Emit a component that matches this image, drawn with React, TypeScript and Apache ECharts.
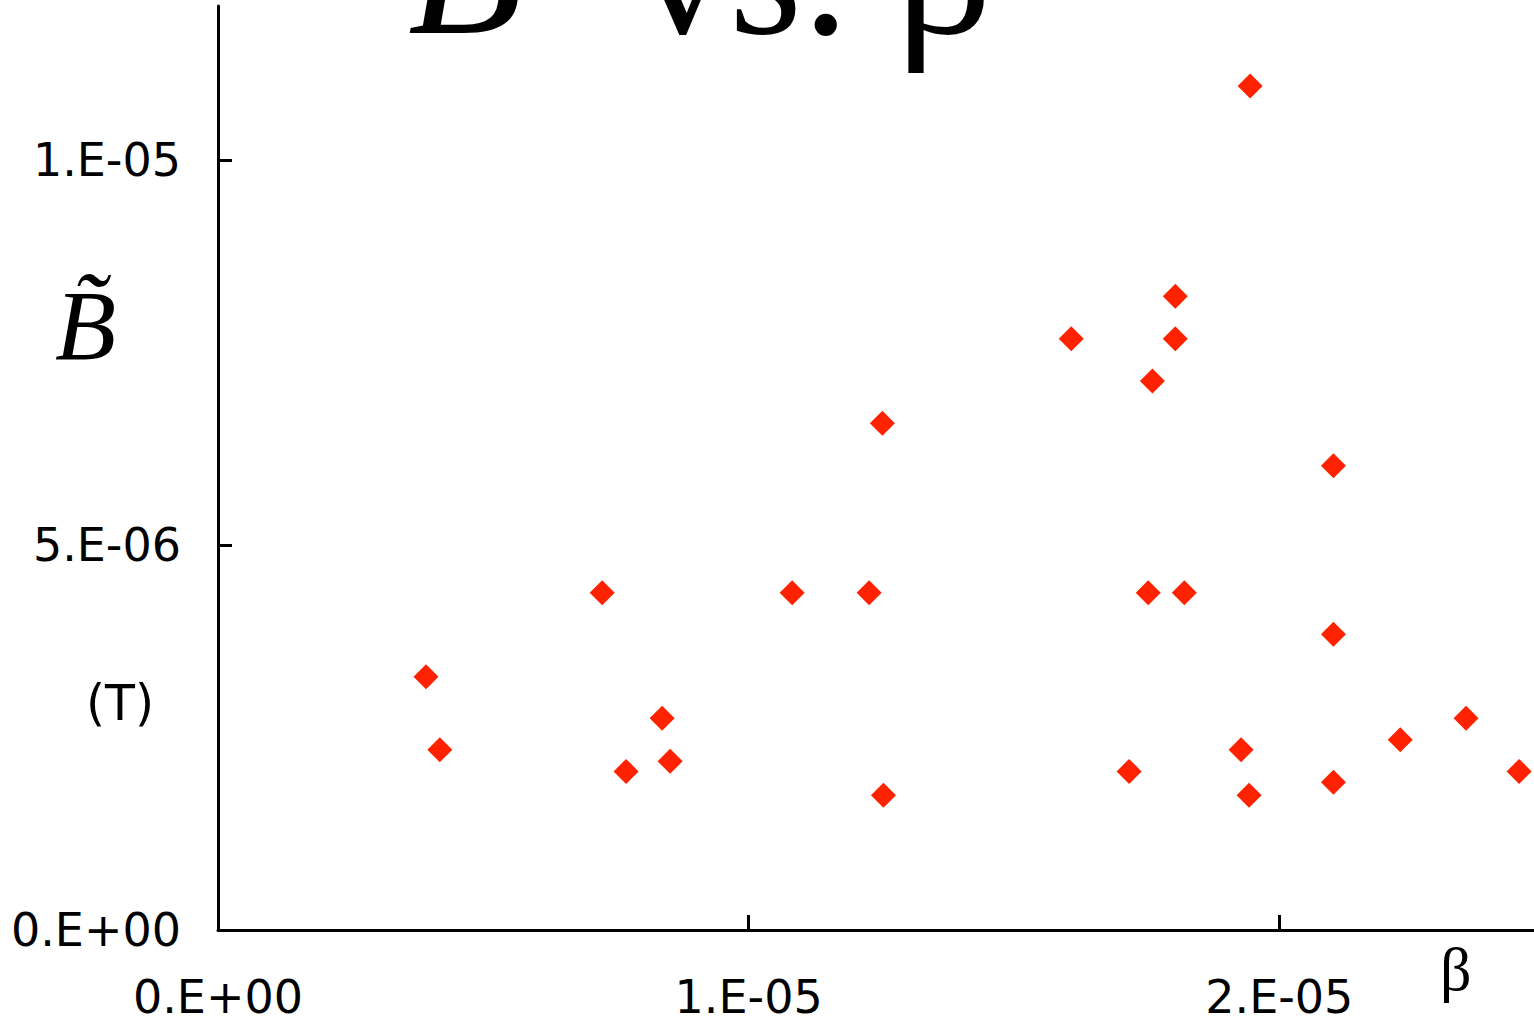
import React, { useEffect, useRef } from "react";
import * as echarts from "echarts";

// β (x) and B̃ in tesla (y) for each measurement
const betaValues = [
  3.92e-6, 4.18e-6, 7.24e-6, 7.69e-6, 8.37e-6, 8.52e-6, 1.082e-5, 1.227e-5,
  1.252e-5, 1.254e-5, 1.608e-5, 1.717e-5, 1.753e-5, 1.761e-5, 1.804e-5,
  1.804e-5, 1.821e-5, 1.928e-5, 1.945e-5, 1.943e-5, 2.102e-5, 2.102e-5,
  2.102e-5, 2.228e-5, 2.352e-5, 2.452e-5,
];
const bTildeValues = [
  3.29e-6, 2.34e-6, 4.38e-6, 2.06e-6, 2.75e-6, 2.19e-6, 4.38e-6, 4.38e-6,
  6.58e-6, 1.75e-6, 7.68e-6, 2.06e-6, 4.38e-6, 7.13e-6, 8.23e-6, 7.68e-6,
  4.38e-6, 2.34e-6, 10.96e-6, 1.75e-6, 6.03e-6, 3.84e-6, 1.92e-6, 2.47e-6,
  2.75e-6, 2.06e-6,
];

const xTickValues = [0, 1e-5, 2e-5];
const xTickLabels = ["0.E+00", "1.E-05", "2.E-05"];
const yTickValues = [0, 5e-6, 1e-5];
const yTickLabels = ["0.E+00", "5.E-06", "1.E-05"];

const labelFor = (values: number[], labels: string[]) => (v: number) => {
  const i = values.findIndex((t) => Math.abs(t - v) < 1e-9);
  return i >= 0 ? labels[i] : "";
};

const SANS = "DejaVu Sans";
const SERIF = "Liberation Serif";

export default function App() {
  const ref = useRef<HTMLDivElement>(null);

  useEffect(() => {
    if (!ref.current) return;
    const chart = echarts.init(ref.current, null, { renderer: "svg" });
    const axisLine = { show: true, onZero: false, lineStyle: { color: "#000", width: 3 } };
    chart.setOption({
      animation: false,
      backgroundColor: "#fff",
      grid: { left: 218, right: 0, top: 6, bottom: 92, containLabel: false },
      xAxis: {
        type: "value",
        min: 0,
        max: 2.48e-5,
        splitLine: { show: false },
        axisLine,
        axisTick: {
          show: true,
          inside: true,
          length: 15,
          customValues: xTickValues.slice(1),
          lineStyle: { color: "#000", width: 3 },
        },
        axisLabel: {
          customValues: xTickValues,
          formatter: labelFor(xTickValues, xTickLabels),
          fontFamily: SANS,
          fontSize: 46,
          color: "#000",
          margin: 44,
        },
      },
      yAxis: {
        type: "value",
        min: 0,
        max: 1.2e-5,
        splitLine: { show: false },
        axisLine,
        axisTick: {
          show: true,
          inside: true,
          length: 14,
          customValues: yTickValues.slice(1),
          lineStyle: { color: "#000", width: 3 },
        },
        axisLabel: {
          customValues: yTickValues,
          formatter: labelFor(yTickValues, yTickLabels),
          fontFamily: SANS,
          fontSize: 46,
          color: "#000",
          margin: 37,
        },
      },
      series: [
        {
          type: "scatter",
          symbol: "diamond",
          symbolSize: 25,
          itemStyle: { color: "#ff2200", opacity: 1 },
          data: betaValues.map((x, i) => [x, bTildeValues[i]]),
        },
      ],
      graphic: [
        // title, partly above the top edge
        {
          type: "text",
          style: {
            x: 408,
            y: -31,
            text: "B\u0303",
            font: `italic 188px "${SERIF}"`,
            fill: "#000",
            align: "left",
            verticalAlign: "middle",
          },
        },
        {
          type: "text",
          style: {
            x: 635,
            y: -31,
            text: "vs. β",
            font: `188px "${SERIF}"`,
            fill: "#000",
            align: "left",
            verticalAlign: "middle",
          },
        },
        {
          type: "text",
          left: 55,
          top: 275,
          style: {
            text: "B\u0303",
            font: `italic 100px "${SERIF}"`,
            fill: "#000",
          },
        },
        {
          type: "text",
          left: 86,
          top: 679,
          style: { text: "(T)", font: `49px "${SANS}"`, fill: "#000" },
        },
        {
          type: "text",
          left: 1440,
          top: 938,
          style: { text: "β", font: `62px "${SERIF}"`, fill: "#000" },
        },
      ],
    });
    return () => chart.dispose();
  }, []);

  return (
    <div
      ref={ref}
      style={{ position: "fixed", left: 0, top: 0, width: 1534, height: 1022 }}
    />
  );
}
